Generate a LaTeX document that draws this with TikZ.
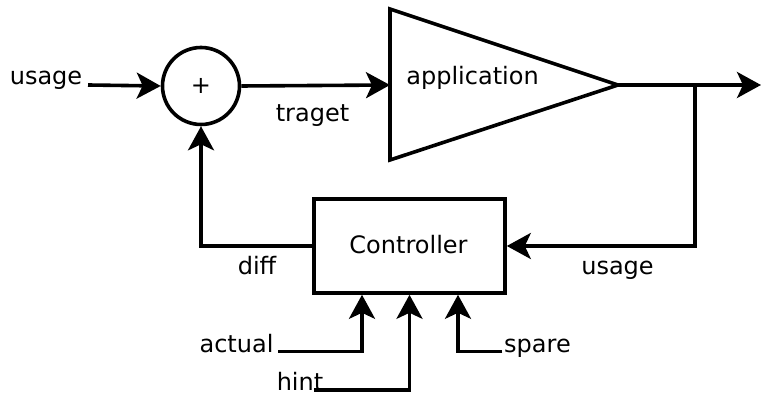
\documentclass[tikz,border=0pt]{standalone}
\usepackage{fontspec}
\setmainfont{DejaVu Sans}
\usepackage{tikz}
\usetikzlibrary{calc, arrows.meta, positioning}

\tikzset{
  lbl/.style={font=\fontsize{12}{14}\selectfont, inner sep=0pt},
  blk/.style={draw, line width=1.8pt, font=\fontsize{12}{14}\selectfont},
}

\begin{document}
\begin{tikzpicture}[x=0.5pt, y=-0.5pt, line width=1.8pt,
    >={Stealth[length=12pt, width=13pt, inset=3pt]}]
  \useasboundingbox (0,0) rectangle (761,394);
  % summing point and amplifier
  \node[blk, circle, minimum size=38.5pt, inner sep=0pt] (sum) at (201,86) {+};
  \draw (390,9) coordinate (app-top) -- (618,85) coordinate (app-out)
        -- (390,160) coordinate (app-bot) -- cycle;
  \coordinate (app-in) at (390,85);
  \node[lbl, anchor=base] (app) at (472.5,85) {application};
  \node[blk, rectangle, minimum width=95.5pt, minimum height=47pt] (ctrl) at (409.5,246) {};
  \node[lbl, anchor=base] (ctrl-txt) at (408.5,254) {Controller};
  % labels
  \node[lbl, anchor=base] (usage-in) at (46,85) {usage};
  \node[lbl, anchor=base] (traget) at (312.5,122) {traget};
  \node[lbl, anchor=base] (usage-fb) at (617.5,275) {usage};
  \node[lbl, anchor=base] (diff) at (257,275) {diff};
  \node[lbl, anchor=base] (actual) at (236.5,353) {actual};
  \node[lbl, anchor=base] (hint) at (300,391) {hint};
  \node[lbl, anchor=base] (spare) at (537.5,353) {spare};
  \coordinate (out) at (761,85);
  \coordinate (tap) at (695,85);
  \coordinate (hint-in) at (314,390);
  % forward path
  \draw[->] (usage-in.base east) ++(4,0) -- (sum.west);
  \draw[->] (sum.east) -- (app-in);
  \draw[->] (app-out) -- (out);
  % feedback path
  \draw[->] (tap) |- (ctrl.east);
  \draw[->] (ctrl.west) -| (sum.south);
  % controller inputs
  \draw[->] ($(actual.base east)+(3,-1.5)$) -| ($(ctrl.south)+(-47.5,0)$);
  \draw[->] (hint-in) -| (ctrl.south);
  \draw[->] ($(spare.base west)+(0,-1.5)$) -| ($(ctrl.south)+(48.5,0)$);
\end{tikzpicture}
\end{document}
